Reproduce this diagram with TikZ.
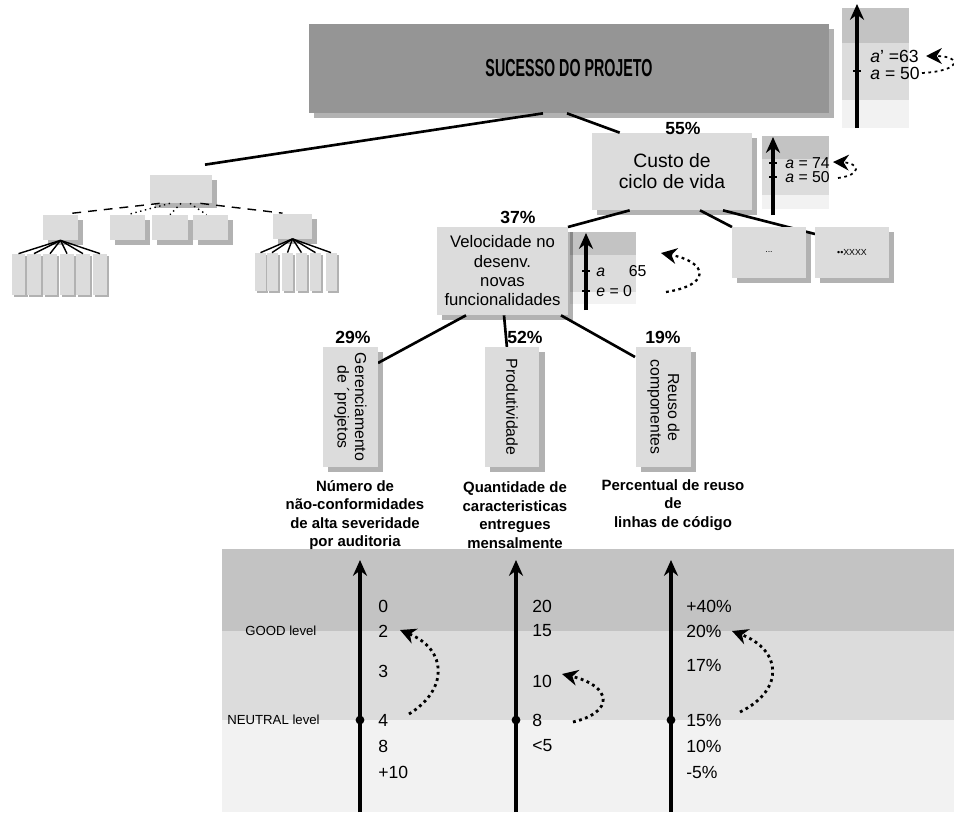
\documentclass[tikz,border=0pt]{standalone}
\usepackage{fontspec}
\setmainfont{Liberation Sans}
\usetikzlibrary{
  calc
  , arrows.meta
  , shadows
  , positioning
}

\definecolor{bandhi}{HTML}{C3C3C3}
\definecolor{bandmid}{HTML}{DCDCDC}
\definecolor{bandlo}{HTML}{F2F2F2}
\definecolor{goalgray}{HTML}{959595}

\tikzset{
  box/.style={rectangle, fill=bandmid, inner sep=1pt, align=center,
    drop shadow={shadow xshift=3pt, shadow yshift=-3pt, fill=black, opacity=0.3}},
  tinybox/.style={rectangle, fill=bandmid, inner sep=0pt,
    drop shadow={shadow xshift=1.2pt, shadow yshift=-1.2pt, fill=black, opacity=0.3}},
  link/.style={line width=1.5pt},
  thinlink/.style={line width=0.8pt},
  axis/.style={-{Stealth[length=9pt, width=8pt]}, line width=2.2pt},
  swing/.style={-{Stealth[length=9pt, width=9pt]}, line width=1.6pt, dotted},
  pct/.style={font=\fontsize{10}{12}\selectfont\bfseries, inner sep=0pt},
  indic/.style={font=\fontsize{8.5}{10.5}\selectfont\bfseries, align=center, inner sep=0pt},
  val/.style={font=\fontsize{10}{12}\selectfont, anchor=west, inner sep=0pt},
}

\begin{document}
\begin{tikzpicture}[x=0.02cm, y=-0.02cm]
  \useasboundingbox (0,0) rectangle (954,812);

  % panels with the levels
  \fill[bandhi] (842,8) rectangle (909,43);
  \fill[bandmid] (842,43) rectangle (909,100);
  \fill[bandlo] (842,100) rectangle (909,128);
  \fill[bandhi] (762,136) rectangle (829,159);
  \fill[bandmid] (762,159) rectangle (829,195);
  \fill[bandlo] (762,195) rectangle (829,209);
  \fill[bandhi] (570,232) rectangle (636,255);
  \fill[bandmid] (570,255) rectangle (636,292);
  \fill[bandlo] (570,292) rectangle (636,304);
  \fill[bandhi] (222,549) rectangle (954,631);
  \fill[bandmid] (222,631) rectangle (954,720);
  \fill[bandlo] (222,720) rectangle (954,812);

  % main tree
  \node[box, fill=goalgray, minimum width=10.4cm, minimum height=1.78cm]
    (goal) at (569,68.5) {\scalebox{0.58}[1]{\fontsize{14}{14}\selectfont\bfseries SUCESSO DO PROJETO}};
  \node[box, minimum width=1.24cm, minimum height=0.56cm] (root) at (181,189) {};
  \coordinate (rootin) at ($(root.north)+(24,-10)$);
  \draw[link] ($(goal.south)+(-26,0)$) -- (rootin);

  \node[box, minimum width=3.2cm, minimum height=1.54cm,
    font=\fontsize{11}{12}\selectfont] (custo) at (672,171.5) {Custo de\\ciclo de vida};
  \draw[link] ($(goal.south)+(-2,0)$) -- ($(custo.north west)+(28,0)$);
  \node[pct] (pcusto) at (683,128) {55\%};

  \draw[link] ($(custo.south west)+(38,0)$) -- (568,227) coordinate (velin);
  \draw[link] ($(custo.south)+(51,0)$) -- (815,234) coordinate (otherin);
  \draw[link] ($(custo.south)+(28,0)$) -- (732,227) coordinate (morein);
  \node[box, minimum width=1.48cm, minimum height=1.02cm] (more) at (769,252.5)
    {\fontsize{5}{5}\selectfont ...};
  \node[box, minimum width=1.48cm, minimum height=1.02cm] (other) at (852,252.5)
    {\fontsize{5}{5}\selectfont ••XXXX};

  \node[box, minimum width=2.62cm, minimum height=1.76cm,
    font=\fontsize{9.5}{11}\selectfont] (veloc) at (502.5,271)
    {Velocidade no\\desenv.\\novas\\funcionalidades};
  \node[pct] (pveloc) at (518,217) {37\%};

  \draw[link] ($(veloc.south)+(-36.5,0)$) -- (378,363);
  \draw[link] ($(veloc.south)+(1.5,0)$) -- (507,348);
  \draw[link] ($(veloc.south)+(58.5,0)$) -- (635,357);
  \node[box, rotate=-90, minimum width=2.4cm, minimum height=1.1cm,
    font=\fontsize{9}{10}\selectfont] (gerenc) at (350.5,407) {Gerenciamento\\de ´projetos};
  \node[box, rotate=-90, minimum width=2.4cm, minimum height=1.1cm,
    font=\fontsize{9}{10}\selectfont] (produt) at (512,407) {Produtividade};
  \node[box, rotate=-90, minimum width=2.4cm, minimum height=1.1cm,
    font=\fontsize{9}{10}\selectfont] (reuso) at (663.5,407) {Reuso de\\componentes};
  \node[pct] (pgerenc) at (353,337) {29\%};
  \node[pct] (pprodut) at (525,337) {52\%};
  \node[pct] (preuso) at (663,337) {19\%};

  % indicators
  \node[indic] (ind1) at (355,515) {Número de\\não-conformidades\\de alta severidade\\por auditoria};
  \node[indic] (ind2) at (515,515) {Quantidade de\\caracteristicas\\entregues\\mensalmente};
  \node[indic] (ind3) at (673,505) {Percentual de reuso\\de\\linhas de código};

  % small tree on the left
  \node[box, minimum width=0.7cm, minimum height=0.5cm] (ca) at (60.5,227.5) {};
  \node[box, minimum width=0.7cm, minimum height=0.5cm] (cb) at (127.5,227.5) {};
  \node[box, minimum width=0.72cm, minimum height=0.5cm] (cc) at (170,227.5) {};
  \node[box, minimum width=0.7cm, minimum height=0.5cm] (cd) at (210.5,227.5) {};
  \node[box, minimum width=0.78cm, minimum height=0.5cm] (ce) at (292.5,226) {};
  \draw[thinlink, dash pattern=on 5pt off 4pt] ($(root.south west)+(10,0)$) -- ($(ca.north)+(8,-1)$);
  \draw[thinlink, dash pattern=on 5pt off 4pt] ($(root.south east)+(-12,0)$) -- ($(ce.north)+(-10,0)$);
  \draw[thinlink, dotted] ($(root.south)+(-11,0)$) -- (cb.north);
  \draw[thinlink, dotted] (root.south) -- (cc.north);
  \draw[thinlink, dotted] ($(root.south)+(9,0)$) -- ($(cd.north)+(-4,0)$);
  \foreach \n/\gx in {1/18.5, 2/34, 3/50, 4/67, 5/83, 6/100} {
    \node[tinybox, minimum width=0.28cm, minimum height=0.82cm] (ga\n) at (\gx,274.5) {};
    \draw[thinlink] (ca.south) -- (ga\n.north);
  }
  \foreach \n/\gx in {1/260.5, 2/272, 3/287.5, 4/301.5, 5/315.5, 6/331} {
    \node[tinybox, minimum width=0.22cm, minimum height=0.76cm] (ge\n) at (\gx,272) {};
    \draw[thinlink] (ce.south) -- (ge\n.north);
  }

  % scales beside the boxes
  \draw[axis] (857,128) -- (857,4);
  \draw[line width=1pt] (853,71) -- (861,71);
  \node[anchor=west, inner sep=0pt, font=\fontsize{10}{10}\selectfont] (ga) at (870,56) {\textit{a}' =63};
  \node[anchor=west, inner sep=0pt, font=\fontsize{10}{10}\selectfont] (gb) at (870,73) {\textit{a} = 50};
  \draw[swing, line width=1pt] (922,73) .. controls (962,71) and (962,56) .. (926,56);

  \draw[axis] (773,215) -- (773,137);
  \draw[line width=1pt] (769,163) -- (777,163);
  \draw[line width=1pt] (769,177) -- (777,177);
  \node[anchor=west, inner sep=0pt, font=\fontsize{9}{9}\selectfont] (cua) at (785,163) {\textit{a} = 74};
  \node[anchor=west, inner sep=0pt, font=\fontsize{9}{9}\selectfont] (cub) at (785,177) {\textit{a} = 50};
  \draw[swing, line width=1pt] (838,178) .. controls (862,175) and (860,163) .. (833,162);

  \draw[axis] (586,310) -- (586,233);
  \draw[line width=1pt] (582,271) -- (590,271);
  \draw[line width=1pt] (582,291) -- (590,291);
  \node[anchor=west, inner sep=0pt, font=\fontsize{9}{9}\selectfont] (vea) at (596,271) {\textit{a}\hspace{1.5em}65};
  \node[anchor=west, inner sep=0pt, font=\fontsize{9}{9}\selectfont] (veb) at (596,291) {\textit{e} = 0};
  \draw[swing, line width=1.3pt] (666,292) .. controls (712,285) and (708,262) .. (661,253);

  % measurement scales
  \foreach \ax in {360, 516, 671} {
    \draw[axis] (\ax,812) -- (\ax,560);
    \fill (\ax,720) circle (2.5pt);
  }
  \node[anchor=west, inner sep=0pt, font=\fontsize{7.5}{9}\selectfont] (good) at (245,631) {GOOD level};
  \node[anchor=west, inner sep=0pt, font=\fontsize{7.5}{9}\selectfont] (neutral) at (227,720) {NEUTRAL level};
  \foreach \v/\vy in {0/606, 2/631, 3/671, 4/720, 8/746, +10/772}
    \node[val] at (378,\vy) {\v};
  \foreach \v/\vy in {20/606, 15/631, 10/681, 8/720, <5/746}
    \node[val] at (532,\vy) {\v};
  \foreach \v/\vy in {+40\%/606, 20\%/631, 17\%/665, 15\%/720, 10\%/746, -5\%/772}
    \node[val] at (686,\vy) {\v};
  \draw[swing] (409,714) .. controls (448,690) and (448,650) .. (400,630);
  \draw[swing] (573,722) .. controls (615,712) and (612,686) .. (562,674);
  \draw[swing] (740,712) .. controls (785,690) and (782,650) .. (732,631);
\end{tikzpicture}
\end{document}
